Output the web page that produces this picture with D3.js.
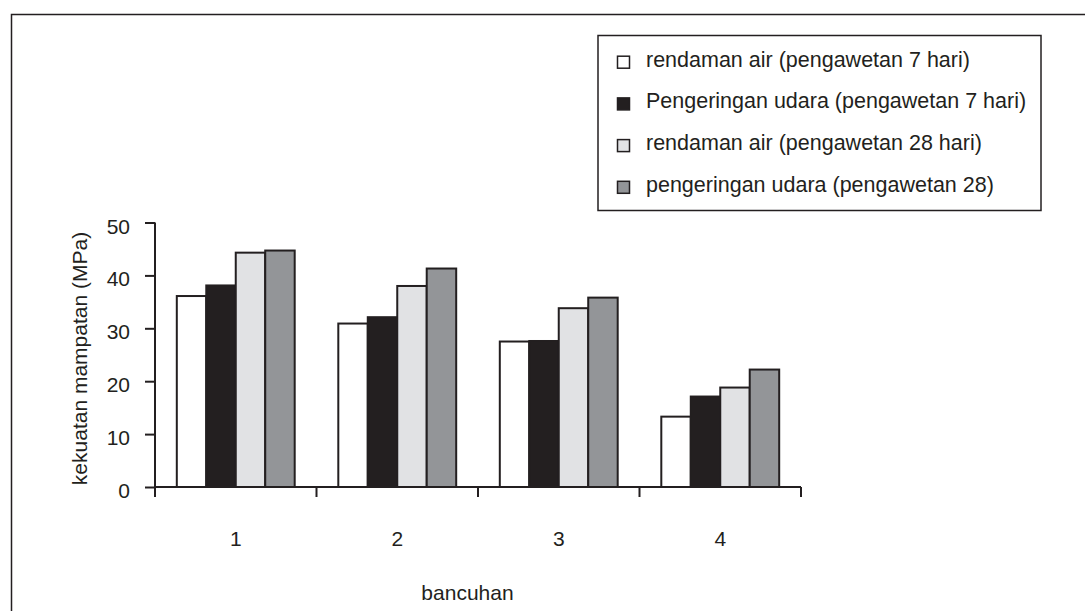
<!DOCTYPE html>
<html><head><meta charset="utf-8">
<script src="https://cdn.jsdelivr.net/npm/d3@7"></script>
<style>body{margin:0;background:#fff}svg{display:block}text{font-family:"Liberation Sans",Arial,sans-serif;fill:#231f20}</style>
</head><body><svg id="c" width="1085" height="611"></svg>
<script>
const categories = ["1","2","3","4"];
const seriesNames = ["rendaman air (pengawetan 7 hari)","Pengeringan udara (pengawetan 7 hari)","rendaman air (pengawetan 28 hari)","pengeringan udara (pengawetan 28)"];
const seriesColors = ["#ffffff","#231f20","#e1e2e4","#939598"];
const rendamanAir7 = [36.1, 30.9, 27.5, 13.3];
const pengeringanUdara7 = [38.1, 32.1, 27.6, 17.1];
const rendamanAir28 = [44.3, 38.0, 33.8, 18.8];
const pengeringanUdara28 = [44.7, 41.3, 35.8, 22.2];
const yTicks = [0,10,20,30,40,50];
const xTitle = "bancuhan", yTitle = "kekuatan mampatan (MPa)";
const values = [rendamanAir7, pengeringanUdara7, rendamanAir28, pengeringanUdara28];

const svg = d3.select("#c");
const ink = "#231f20";
const fs = 21;
// outer frame
svg.append("rect").attr("x",11.5).attr("y",14.5).attr("width",1100).attr("height",700)
  .attr("fill","none").attr("stroke",ink).attr("stroke-width",1.5);

const x0 = 155, x1 = 801, y0 = 487, y1 = 222.5;
const x = d3.scaleBand().domain(categories).range([x0,x1]).paddingInner(0.27).paddingOuter(0.135);
const xs = d3.scaleBand().domain(d3.range(4)).range([0,x.bandwidth()]);
const y = d3.scaleLinear().domain([0,50]).range([y0,y1]);

// bars
categories.forEach((c,i)=>{
  values.forEach((arr,s)=>{
    svg.append("rect")
      .attr("x", x(c)+xs(s)).attr("y", y(arr[i]))
      .attr("width", xs.bandwidth()).attr("height", y(0)-y(arr[i]))
      .attr("fill", seriesColors[s]).attr("stroke", ink).attr("stroke-width",2);
  });
});

// y axis
const ya = svg.append("g").attr("transform",`translate(${x0},0)`)
  .call(d3.axisLeft(y).tickValues(yTicks).tickSize(10).tickPadding(15));
ya.select(".domain").attr("stroke",ink).attr("stroke-width",2).attr("d",`M0,${y1}V${y0}`);
ya.selectAll(".tick line").attr("stroke",ink).attr("stroke-width",2);
ya.selectAll("text").attr("font-size",fs).attr("dy","0.5em").attr("fill",ink).style("font-family","Liberation Sans, Arial, sans-serif");

// x axis: line + boundary ticks
const boundaries = d3.range(categories.length+1).map(k=> x0 + k*(x1-x0)/categories.length);
const xa = svg.append("g");
xa.append("line").attr("x1",x0).attr("x2",x1).attr("y1",y0).attr("y2",y0).attr("stroke",ink).attr("stroke-width",2);
boundaries.forEach(b=> xa.append("line").attr("x1",b).attr("x2",b).attr("y1",y0).attr("y2",y0+10).attr("stroke",ink).attr("stroke-width",2));
categories.forEach(c=> xa.append("text").attr("x",x(c)+x.bandwidth()/2).attr("y",545.5)
  .attr("text-anchor","middle").attr("font-size",fs).text(c));

// titles
svg.append("text").attr("x",467.5).attr("y",600).attr("text-anchor","middle").attr("font-size",fs).text(xTitle);
svg.append("text").attr("transform",`translate(87,358.5) rotate(-90)`).attr("text-anchor","middle").attr("font-size",fs).text(yTitle);

// legend
const lg = svg.append("g");
lg.append("rect").attr("x",598).attr("y",35.5).attr("width",443).attr("height",175)
  .attr("fill","#fff").attr("stroke",ink).attr("stroke-width",1.5);
seriesNames.forEach((n,i)=>{
  const base = 66.7 + i*41.7;
  lg.append("rect").attr("x",617.5).attr("y",base-10.5).attr("width",12).attr("height",12)
    .attr("fill",seriesColors[i]).attr("stroke",ink).attr("stroke-width",1.5);
  lg.append("text").attr("x",646).attr("y",base).attr("font-size",21.5).text(n);
});
</script></body></html>
